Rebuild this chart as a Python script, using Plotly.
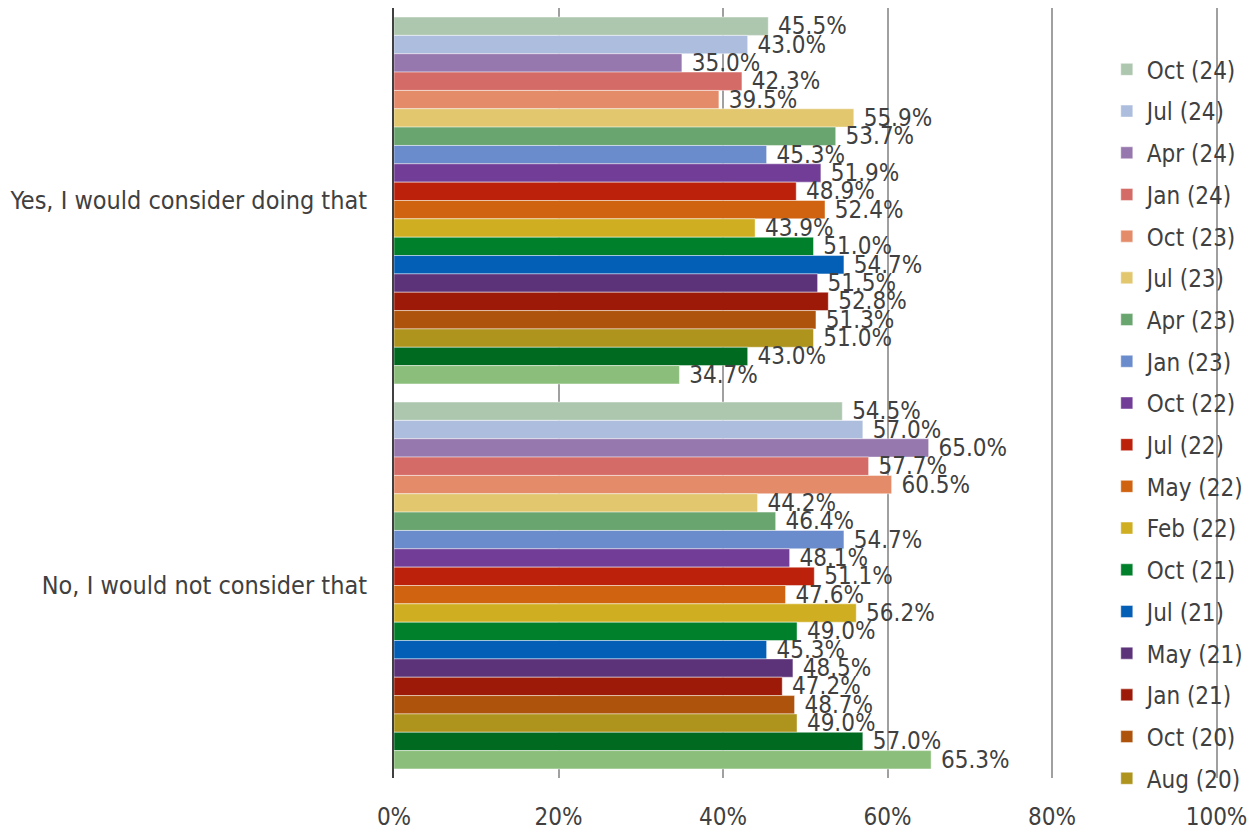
import plotly.graph_objects as go

categories = ["Yes, I would consider doing that", "No, I would not consider that"]

waves = [
    "Oct (24)", "Jul (24)", "Apr (24)", "Jan (24)", "Oct (23)", "Jul (23)",
    "Apr (23)", "Jan (23)", "Oct (22)", "Jul (22)", "May (22)", "Feb (22)",
    "Oct (21)", "Jul (21)", "May (21)", "Jan (21)", "Oct (20)", "Aug (20)",
    "Jun (20)", "Apr (20)",
]

yes_values = [
    45.5, 43.0, 35.0, 42.3, 39.5, 55.9, 53.7, 45.3, 51.9, 48.9,
    52.4, 43.9, 51.0, 54.7, 51.5, 52.8, 51.3, 51.0, 43.0, 34.7,
]

no_values = [
    54.5, 57.0, 65.0, 57.7, 60.5, 44.2, 46.4, 54.7, 48.1, 51.1,
    47.6, 56.2, 49.0, 45.3, 48.5, 47.2, 48.7, 49.0, 57.0, 65.3,
]

colors = [
    "#ADC6AE", "#ADBDDE", "#9677AE", "#D46B66", "#E48C6A", "#E2C76F",
    "#69A56E", "#6A8CCC", "#713D97", "#BC210B", "#D0630F", "#CFAE21",
    "#00802A", "#035EB6", "#5C3279", "#9C1A07", "#AE530B", "#AE941C",
    "#006A21", "#8BBE7A",
]

x_ticks = [0, 20, 40, 60, 80, 100]

# the legend only has room for the first 18 waves
legend_rows = 18

FONT = "DejaVu Sans Condensed, Verdana, DejaVu Sans, sans-serif"
TEXT_COLOR = "#404040"

fig = go.Figure()
for i, wave in enumerate(waves):
    vals = [yes_values[i], no_values[i]]
    fig.add_trace(go.Bar(
        name=wave,
        y=categories,
        x=vals,
        orientation="h",
        marker=dict(color=colors[i], line=dict(color="rgba(255,255,255,0.45)", width=1)),
        text=[f"\u00a0{v:.1f}%" for v in vals],
        textposition="outside",
        textfont=dict(family=FONT, size=24, color=TEXT_COLOR),
        constraintext="none",
        cliponaxis=False,
        legendgroup=wave,
        showlegend=i < legend_rows,
        hoverinfo="x+name",
    ))

fig.update_layout(
    width=1259,
    height=830,
    barmode="group",
    bargap=0.047,
    bargroupgap=0,
    plot_bgcolor="white",
    paper_bgcolor="white",
    margin=dict(l=394, r=39.5, t=8, b=52, autoexpand=False),
    font=dict(family=FONT, size=22, color=TEXT_COLOR),
    xaxis=dict(
        # a little past 100 so the 100% gridline is kept
        range=[0, 100.3],
        tickvals=x_ticks,
        ticktext=[f"{t}%" for t in x_ticks],
        showgrid=True,
        gridcolor="#A0A0A0",
        gridwidth=2,
        zeroline=False,
        showline=False,
        ticks="",
        ticklabelstandoff=22,
        tickfont=dict(family=FONT, size=24, color=TEXT_COLOR),
        fixedrange=True,
    ),
    yaxis=dict(
        autorange="reversed",
        showline=True,
        linecolor="#404040",
        linewidth=2,
        ticks="",
        ticklabelstandoff=20,
        tickfont=dict(family=FONT, size=25, color=TEXT_COLOR),
        fixedrange=True,
    ),
    legend=dict(
        x=0.864,
        y=0.949,
        xanchor="left",
        yanchor="top",
        bgcolor="rgba(0,0,0,0)",
        font=dict(family=FONT, size=24, color=TEXT_COLOR),
        traceorder="grouped",
        tracegroupgap=7.5,
    ),
)

fig.write_html("out.html")
